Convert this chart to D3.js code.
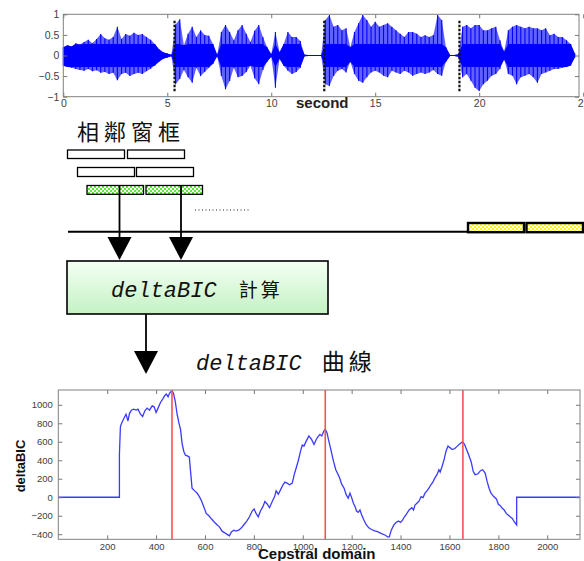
<!DOCTYPE html>
<html>
<head>
<meta charset="utf-8">
<script src="https://cdn.jsdelivr.net/npm/d3@7"></script>
<style>
  body { margin: 0; background: #fff; }
  svg { display: block; }
  .tick text { fill: #404040; font-family: "Liberation Sans", Arial, sans-serif; }
  .tick line { stroke: #777; }
</style>
</head>
<body>
<script>
const width = 584
const height = 561

// ---- waveform envelope (peak values read every 0.2 s) ----
const waveStep = 0.2
const waveTop = [0.20,0.25,0.22,0.30,0.27,0.33,0.38,0.30,0.40,0.52,0.42,0.38,0.45,0.70,0.40,0.52,0.48,0.55,0.50,0.52,
  0.45,0.38,0.28,0.15,0.08,0.05,0.02,0.75,0.88,0.25,0.53,0.70,0.45,0.61,0.50,0.48,0.28,0.02,0.57,0.74,
  0.57,0.37,0.61,0.74,0.53,0.33,0.60,0.74,0.45,0.20,0.03,0.57,0.08,0.28,0.57,0.45,0.45,0.35,0.02,0.01,
  0.01,0.01,0.01,0.86,0.98,0.70,0.74,0.61,0.66,0.20,0.57,0.78,0.98,0.86,0.70,0.82,0.70,0.74,0.78,0.70,
  0.61,0.53,0.45,0.57,0.57,0.53,0.45,0.49,0.45,0.50,0.98,0.86,0.20,0.01,0.01,0.03,0.70,0.74,0.66,0.74,
  0.74,0.61,0.61,0.66,0.70,0.37,0.10,0.61,0.70,0.74,0.70,0.66,0.70,0.66,0.66,0.61,0.66,0.49,0.53,0.45,
  0.45,0.37,0.28,0.05]
const waveBottom = [-0.25,-0.28,-0.30,-0.33,-0.35,-0.37,-0.33,-0.38,-0.36,-0.42,-0.40,-0.45,-0.42,-0.60,-0.45,-0.42,-0.50,-0.45,-0.42,-0.45,
  -0.38,-0.32,-0.24,-0.15,-0.08,-0.05,-0.02,-0.70,-0.57,-0.35,-0.53,-0.66,-0.30,-0.50,-0.40,-0.30,-0.20,-0.02,-0.50,-0.82,
  -0.62,-0.30,-0.53,-0.50,-0.40,-0.25,-0.55,-0.70,-0.35,-0.15,-0.03,-0.78,-0.08,-0.25,-0.37,-0.45,-0.40,-0.30,-0.02,-0.01,
  -0.01,-0.01,-0.01,-0.70,-0.74,-0.50,-0.37,-0.33,-0.41,-0.15,-0.45,-0.61,-0.66,-0.53,-0.41,-0.37,-0.41,-0.49,-0.53,-0.37,
  -0.41,-0.45,-0.37,-0.41,-0.49,-0.45,-0.41,-0.45,-0.41,-0.35,-0.45,-0.49,-0.15,-0.01,-0.01,-0.03,-0.53,-0.45,-0.61,-0.78,
  -0.86,-0.70,-0.61,-0.49,-0.45,-0.33,-0.10,-0.45,-0.49,-0.70,-0.53,-0.49,-0.45,-0.53,-0.66,-0.45,-0.41,-0.37,-0.33,-0.33,
  -0.30,-0.28,-0.24,-0.05]
const waveCore = 0.28   // amplitude below which the trace is solid
const boundaries = [5.35, 12.55, 19.05]
const waveXTicks = [0, 5, 10, 15, 20, 25]
const waveYTicks = [-1, -0.5, 0, 0.5, 1]

// ---- deltaBIC curve ----
const bicX = [0,250,250,254,258,268,277,285,291,299,308,318,326,336,345,354,363,373,384,392,400,408,418,427,435,442,449,455,461,466,
  472,479,486,493,500,506,513,520,530,536,541,547,558,568,577,586,595,605,616,627,637,648,659,670,681,692,700,708,718,727,
  738,749,760,771,782,793,801,809,818,827,837,845,855,864,875,885,891,900,909,919,927,936,946,957,965,973,981,991,998,1005,
  1014,1025,1036,1046,1055,1061,1070,1078,1086,1092,1099,1105,1115,1124,1135,1145,1151,1159,1169,1178,1186,1193,1200,1207,1214,1220,1227,1234,1241,1250,
  1259,1270,1281,1295,1308,1322,1338,1347,1354,1362,1372,1381,1392,1400,1408,1416,1426,1435,1446,1453,1459,1467,1476,1484,1492,1500,1508,1516,1524,1532,
  1540,1549,1557,1562,1570,1578,1586,1594,1603,1611,1622,1632,1643,1654,1662,1670,1678,1689,1697,1705,1716,1727,1736,1746,1754,1762,1770,1781,1792,1800,
  1808,1816,1824,1832,1840,1848,1857,1865,1875,1875,2134]
const bicY = [0,0,462,760,796,851,898,825,905,942,953,942,953,898,873,935,964,942,989,978,916,964,1025,1062,1098,1116,1087,1124,1145,1153,
  1116,1025,898,807,735,589,498,455,444,433,280,98,69,44,7,-40,-102,-175,-200,-236,-265,-295,-320,-367,-385,-404,-418,-375,-356,-367,
  -356,-331,-295,-258,-211,-149,-127,-175,-211,-149,-102,-47,-76,-113,-47,7,69,33,80,135,164,153,135,153,244,316,389,498,564,553,
  607,662,625,571,625,651,680,662,716,735,698,625,516,407,298,244,207,142,98,25,-11,44,-4,-65,-102,-149,-164,-138,-193,-247,
  -295,-331,-349,-364,-375,-393,-411,-429,-429,-356,-302,-273,-258,-273,-247,-211,-175,-138,-113,-138,-84,-65,-40,7,-4,44,69,98,135,164,
  207,244,298,273,335,407,498,553,534,516,527,553,578,600,571,516,462,382,280,244,251,287,298,262,171,98,44,7,-18,-76,
  -91,-120,-138,-175,-193,-211,-229,-265,-300,0,0]
const changePoints = [465, 1092, 1655]
const bicXTicks = [200, 400, 600, 800, 1000, 1200, 1400, 1600, 1800, 2000]
const bicYTicks = [-400, -200, 0, 200, 400, 600, 800, 1000]

const svg = d3.select('body').append('svg').attr('width', width).attr('height', height)
const defs = svg.append('defs')

// ---------------- waveform panel ----------------
const xW = d3.scaleLinear().domain([0, 24.8]).range([63.3, 579])
const yW = d3.scaleLinear().domain([-1, 1]).range([96.7, 14.3])

const wave = waveTop.map((v, i) => ({ t: i * waveStep, hi: v, lo: waveBottom[i] }))

// lighter full envelope
svg.append('path')
  .datum(wave)
  .attr('d', d3.area().x(d => xW(d.t)).y0(d => yW(d.lo)).y1(d => yW(d.hi)))
  .attr('fill', '#0000ff')
  .attr('fill-opacity', 0.62)

// dense core
svg.append('path')
  .datum(wave)
  .attr('d', d3.area().x(d => xW(d.t))
    .y0(d => yW(Math.max(d.lo, -waveCore)))
    .y1(d => yW(Math.min(d.hi, waveCore))))
  .attr('fill', '#0000ff')

// peaks
svg.selectAll('line.peak')
  .data(wave)
  .join('line')
  .attr('class', 'peak')
  .attr('x1', d => xW(d.t)).attr('x2', d => xW(d.t))
  .attr('y1', d => yW(d.lo)).attr('y2', d => yW(d.hi))
  .attr('stroke', '#0000ff').attr('stroke-width', 1.1)

svg.selectAll('line.bound')
  .data(boundaries)
  .join('line')
  .attr('class', 'bound')
  .attr('x1', d => xW(d)).attr('x2', d => xW(d))
  .attr('y1', 20.7).attr('y2', 91.7)
  .attr('stroke', '#111').attr('stroke-width', 2.2)
  .attr('stroke-dasharray', '2.5,1.5')

function frame(xs, ys, fs, padL, padB, xTicks, yTicks, yFmt) {
  const [x0, x1] = xs.range()
  const [y1, y0] = ys.range()
  const g = svg.append('g')
  g.append('g').attr('transform', `translate(0,${y1})`)
    .call(d3.axisBottom(xs).tickValues(xTicks).tickSize(-4).tickPadding(padB).tickFormat(d3.format('d')))
  g.append('g').attr('transform', `translate(0,${y0})`)
    .call(d3.axisTop(xs).tickValues(xTicks).tickSize(-4).tickFormat(''))
  g.append('g').attr('transform', `translate(${x0},0)`)
    .call(d3.axisLeft(ys).tickValues(yTicks).tickSize(-4).tickPadding(padL).tickFormat(yFmt))
  g.append('g').attr('transform', `translate(${x1},0)`)
    .call(d3.axisRight(ys).tickValues(yTicks).tickSize(-4).tickFormat(''))
  g.selectAll('.domain').remove()
  g.selectAll('.tick text').style('font-size', fs + 'px')
  g.append('rect')
    .attr('x', x0).attr('y', y0).attr('width', x1 - x0).attr('height', y1 - y0)
    .attr('fill', 'none').attr('stroke', '#808080').attr('stroke-width', 1)
  return g
}

frame(xW, yW, 10.5, 4, 3, waveXTicks, waveYTicks, d => d === 0 || Math.abs(d) === 1 ? d3.format('d')(d) : d3.format('.1f')(d))

svg.append('text')
  .attr('x', 296).attr('y', 107.5)
  .attr('font-family', '"Liberation Sans", Arial, sans-serif')
  .attr('font-weight', 'bold').attr('font-size', 15)
  .attr('fill', '#222')
  .text('second')

// ---------------- sliding-window diagram ----------------
const cjk = '"Noto Sans CJK TC", "Noto Sans CJK SC", sans-serif'
const mono = '"Liberation Mono", "DejaVu Sans Mono", monospace'

const green = defs.append('pattern').attr('id', 'greenChk')
  .attr('width', 4).attr('height', 4).attr('patternUnits', 'userSpaceOnUse')
green.append('rect').attr('width', 4).attr('height', 4).attr('fill', '#fff')
green.append('rect').attr('width', 2).attr('height', 2).attr('fill', '#5ee83a')
green.append('rect').attr('x', 2).attr('y', 2).attr('width', 2).attr('height', 2).attr('fill', '#5ee83a')

const yellow = defs.append('pattern').attr('id', 'yellowChk')
  .attr('width', 4).attr('height', 4).attr('patternUnits', 'userSpaceOnUse')
yellow.append('rect').attr('width', 4).attr('height', 4).attr('fill', '#fff')
yellow.append('rect').attr('width', 2).attr('height', 2).attr('fill', '#ffff00')
yellow.append('rect').attr('x', 2).attr('y', 2).attr('width', 2).attr('height', 2).attr('fill', '#ffff00')

const grad = defs.append('linearGradient').attr('id', 'boxGrad')
  .attr('x1', 0).attr('y1', 0).attr('x2', 0).attr('y2', 1)
grad.append('stop').attr('offset', '0%').attr('stop-color', '#f4fff4')
grad.append('stop').attr('offset', '100%').attr('stop-color', '#c4f2c4')

svg.append('text')
  .attr('x', 77).attr('y', 140)
  .attr('font-family', cjk).attr('font-size', 22)
  .attr('letter-spacing', 5)
  .attr('fill', '#111')
  .text('相鄰窗框')

// window boxes: [x, y, w, h, fill, stroke width]
const windows = [
  [67.5, 150, 57, 8.5, '#fff', 1.3],
  [127.5, 150, 57, 8.5, '#fff', 1.3],
  [77.5, 167.5, 57, 9, '#fff', 1.3],
  [136.5, 167.5, 57, 9, '#fff', 1.3],
  [87, 185.5, 56.5, 8.8, 'url(#greenChk)', 1.3],
  [146, 185.5, 56.5, 8.8, 'url(#greenChk)', 1.3],
  [468, 223, 56, 9.2, 'url(#yellowChk)', 2.4],
  [526.5, 223, 56.5, 9.2, 'url(#yellowChk)', 2.4]
]
svg.selectAll('rect.win')
  .data(windows)
  .join('rect')
  .attr('class', 'win')
  .attr('x', d => d[0]).attr('y', d => d[1])
  .attr('width', d => d[2]).attr('height', d => d[3])
  .attr('fill', d => d[4])
  .attr('stroke', '#000').attr('stroke-width', d => d[5])

svg.append('line')
  .attr('x1', 195).attr('x2', 251).attr('y1', 210).attr('y2', 210)
  .attr('stroke', '#222').attr('stroke-width', 1.2).attr('stroke-dasharray', '1,2.5')

svg.append('line')
  .attr('x1', 68).attr('x2', 468).attr('y1', 231.7).attr('y2', 231.7)
  .attr('stroke', '#000').attr('stroke-width', 2)

function arrow(x, yTop, yLine, yTip) {
  svg.append('line')
    .attr('x1', x).attr('x2', x).attr('y1', yTop).attr('y2', yLine + 2)
    .attr('stroke', '#000').attr('stroke-width', 1.8)
  svg.append('path')
    .attr('d', `M${x - 12},${yLine} L${x + 12},${yLine} L${x},${yTip} Z`)
    .attr('fill', '#000')
}
arrow(119.5, 186, 237, 260)
arrow(181, 186, 237, 260)

svg.append('rect')
  .attr('x', 67).attr('y', 261).attr('width', 261).attr('height', 53)
  .attr('fill', 'url(#boxGrad)')
  .attr('stroke', '#000').attr('stroke-width', 1.6)

const boxText = svg.append('text').attr('x', 111).attr('y', 297).attr('fill', '#111')
boxText.append('tspan').attr('font-family', mono).attr('font-style', 'italic').attr('font-size', 22).text('deltaBIC')
boxText.append('tspan').attr('dx', 22).attr('font-family', cjk).attr('font-size', 19).attr('letter-spacing', 3).text('計算')

arrow(146, 314, 351, 374)

const curveText = svg.append('text').attr('x', 196).attr('y', 370).attr('fill', '#111')
curveText.append('tspan').attr('font-family', mono).attr('font-style', 'italic').attr('font-size', 22).text('deltaBIC')
curveText.append('tspan').attr('dx', 20).attr('font-family', cjk).attr('font-size', 23).attr('letter-spacing', 4).text('曲線')

// ---------------- deltaBIC panel ----------------
const xB = d3.scaleLinear().domain([0, 2134]).range([58.3, 580])
const yB = d3.scaleLinear().domain([-455, 1160]).range([539.3, 390])

const bic = bicX.map((x, i) => ({ x, y: bicY[i] }))
svg.append('path')
  .datum(bic)
  .attr('d', d3.line().x(d => xB(d.x)).y(d => yB(d.y)))
  .attr('fill', 'none')
  .attr('stroke', '#3a3aff')
  .attr('stroke-width', 1.3)

svg.selectAll('line.cp')
  .data(changePoints)
  .join('line')
  .attr('class', 'cp')
  .attr('x1', d => xB(d)).attr('x2', d => xB(d))
  .attr('y1', yB.range()[1]).attr('y2', yB.range()[0])
  .attr('stroke', '#ff5050').attr('stroke-width', 1.6)

frame(xB, yB, 9.5, 5.5, 4, bicXTicks, bicYTicks, d3.format('d'))

svg.append('text')
  .attr('transform', 'translate(25,466) rotate(-90)')
  .attr('text-anchor', 'middle')
  .attr('font-family', '"Liberation Sans", Arial, sans-serif')
  .attr('font-weight', 'bold').attr('font-size', 13)
  .attr('fill', '#111')
  .text('deltaBIC')

svg.append('text')
  .attr('x', 258).attr('y', 559)
  .attr('font-family', '"Liberation Sans", Arial, sans-serif')
  .attr('font-weight', 'bold').attr('font-size', 15)
  .attr('fill', '#111')
  .text('Cepstral domain')
</script>
</body>
</html>
